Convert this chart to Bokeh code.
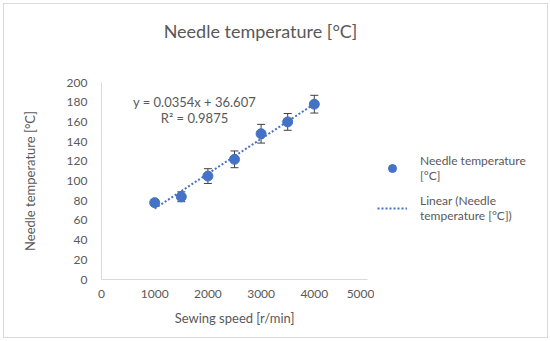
from bokeh.plotting import figure
from bokeh.layouts import row, column
from bokeh.models import Range1d, ColumnDataSource, Whisker, Label, Legend, LegendItem, FixedTicker
from bokeh.embed import file_html
from bokeh.resources import INLINE

speed = [1000, 1500, 2000, 2500, 3000, 3500, 4000]
temp = [78, 84, 105, 122, 148, 160, 178]
err = [3, 5, 7.5, 8.5, 9.5, 8.5, 9]
slope = 0.0354
intercept = 36.607
r2 = 0.9875
trend_x = [1000, 4000]
x_ticks = [0, 1000, 2000, 3000, 4000, 5000]
y_ticks = [0, 20, 40, 60, 80, 100, 120, 140, 160, 180, 200]
title_text = "Needle temperature [°C]"

FONT = "Lato"
GRAY = "#595959"
BLUE = "#4472C4"


def blank(width, height, xr, yr):
    f = figure(width=width, height=height, output_backend="svg", toolbar_location=None,
               x_range=Range1d(*xr), y_range=Range1d(*yr),
               min_border_left=0, min_border_right=0, min_border_top=0, min_border_bottom=0)
    f.axis.visible = False
    f.grid.visible = False
    f.outline_line_color = None
    return f


# title strip
t = blank(543, 54, (0, 543), (0, 54))
t.add_layout(Label(x=256, y=28, text=title_text, text_align="center", text_baseline="middle",
                   text_font=FONT, text_font_size="18px", text_color=GRAY))

p = figure(width=370, height=279, output_backend="svg", toolbar_location=None,
           x_range=Range1d(0, 5000), y_range=Range1d(0, 200),
           min_border_left=97, min_border_right=7, min_border_top=24, min_border_bottom=58)
p.outline_line_color = None
p.grid.visible = False

for ax in (p.xaxis[0], p.yaxis[0]):
    ax.axis_line_color = "#d9d9d9"
    ax.major_tick_line_color = None
    ax.minor_tick_line_color = None
    ax.major_label_text_font = FONT
    ax.major_label_text_font_size = "12px"
    ax.major_label_text_color = GRAY
    ax.axis_label_text_font = FONT
    ax.axis_label_text_font_size = "13px"
    ax.axis_label_text_font_style = "normal"
    ax.axis_label_text_color = GRAY

p.xaxis.ticker = FixedTicker(ticks=x_ticks)
p.yaxis.ticker = FixedTicker(ticks=y_ticks)
p.xaxis.axis_label = "Sewing speed [r/min]"
p.yaxis.axis_label = "Needle temperature [°C]"
p.xaxis.major_label_standoff = 4
p.yaxis.major_label_standoff = 8
p.xaxis.axis_label_standoff = 9
p.yaxis.axis_label_standoff = 26

src = ColumnDataSource(dict(x=speed, y=temp,
                            upper=[t_ + e for t_, e in zip(temp, err)],
                            lower=[t_ - e for t_, e in zip(temp, err)]))

trend_y = [slope * x + intercept for x in trend_x]
line = p.line(trend_x, trend_y, line_color=BLUE, line_width=2, line_dash="2 2")

w = Whisker(source=src, base="x", upper="upper", lower="lower",
            line_color="#404040", line_width=1)
w.upper_head.size = 8
w.lower_head.size = 8
w.upper_head.line_color = "#404040"
w.lower_head.line_color = "#404040"
p.add_layout(w)

pts = p.scatter("x", "y", source=src, size=10, fill_color=BLUE, line_color=BLUE)

p.add_layout(Label(x=1748, y=180, text=f"y = {slope}x + {intercept}", text_align="center",
                   text_baseline="middle", text_font=FONT, text_font_size="13px", text_color=GRAY))
p.add_layout(Label(x=1748, y=163.5, text=f"R² = {r2}", text_align="center",
                   text_baseline="middle", text_font=FONT, text_font_size="13px", text_color=GRAY))

# legend panel (separate figure so the legend is not clipped by the main frame)
q = blank(173, 279, (0, 1), (0, 1))
lp = q.scatter([-10], [-10], size=10, fill_color=BLUE, line_color=BLUE)
ll = q.line([-10, -9], [-10, -10], line_color=BLUE, line_width=2, line_dash="2 2")

legend = Legend(items=[LegendItem(label="Needle temperature\n[°C]", renderers=[lp]),
                       LegendItem(label="Linear (Needle\ntemperature [°C])", renderers=[ll])],
                location=(3, 56), border_line_color=None, background_fill_alpha=0,
                padding=0, margin=0, label_standoff=13, label_text_line_height=1.3,
                label_text_font=FONT, label_text_font_size="12px", label_text_color=GRAY,
                glyph_width=30, spacing=10)
q.add_layout(legend)

layout = column(t, row(p, q), styles={"border": "1px solid #d9d9d9", "margin": "3px"})
open("out.html", "w").write(file_html(layout, INLINE))
